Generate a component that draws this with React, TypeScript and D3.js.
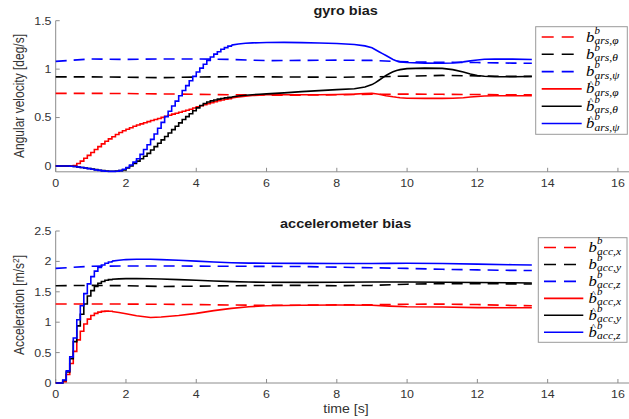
import React from "react";
import * as d3 from "d3";

const W = 629;
const H = 419;
const SX = 1.15; // horizontal glyph stretch of the exported figure

// ---- axes ----
const xTicks = [0, 2, 4, 6, 8, 10, 12, 14, 16];
const gyroYTicks = [0, 0.5, 1, 1.5];
const accYTicks = [0, 0.5, 1, 1.5, 2, 2.5];

// ---- true biases (1 s knots) ----
const trueTime = [0, 1, 2, 3, 4, 5, 6, 7, 8, 9, 10, 11, 12, 13, 13.55];
const gyroTruePhi = [0.75, 0.75, 0.748, 0.744, 0.74, 0.735, 0.732, 0.732, 0.735, 0.74, 0.742, 0.74, 0.738, 0.735, 0.735];
const gyroTrueTheta = [0.92, 0.92, 0.917, 0.912, 0.918, 0.922, 0.92, 0.918, 0.916, 0.92, 0.928, 0.935, 0.93, 0.925, 0.925];
const gyroTruePsi = [1.08, 1.105, 1.1, 1.105, 1.105, 1.1, 1.088, 1.09, 1.093, 1.09, 1.075, 1.07, 1.068, 1.062, 1.06];
const accTrueX = [1.3, 1.3, 1.298, 1.295, 1.29, 1.283, 1.278, 1.28, 1.285, 1.288, 1.295, 1.298, 1.29, 1.275, 1.27];
const accTrueY = [1.6, 1.605, 1.6, 1.588, 1.592, 1.6, 1.605, 1.605, 1.6, 1.605, 1.625, 1.635, 1.635, 1.63, 1.628];
const accTrueZ = [1.885, 1.92, 1.925, 1.925, 1.922, 1.92, 1.918, 1.915, 1.905, 1.895, 1.885, 1.87, 1.86, 1.852, 1.85];

// ---- estimated gyro bias (held samples until GYRO_STEP_END) ----
const GYRO_STEP_END = 5.0;
const gyroEstTime = [
  0, 0.2, 0.4,
  0.5, 0.6, 0.7, 0.8, 0.9, 1.0,
  1.1, 1.2, 1.3, 1.4, 1.5, 1.6, 1.7, 1.8, 1.9, 2.0,
  2.1, 2.2, 2.3, 2.4, 2.5, 2.6, 2.7, 2.8, 2.9, 3.0,
  3.1, 3.2, 3.3, 3.4, 3.5, 3.6, 3.7, 3.8, 3.9, 4.0,
  4.1, 4.2, 4.3, 4.4, 4.5, 4.6, 4.7, 4.8, 4.9, 5.0,
  5.2, 5.4, 5.6, 5.8, 6.0,
  6.5, 7.0, 7.5, 8.0, 8.5, 8.8,
  9.0, 9.1, 9.2, 9.3, 9.4, 9.5, 9.6, 9.7, 9.8,
  10.0, 10.5, 11.0, 11.3, 11.6, 11.8, 12.0, 12.2, 12.5, 13.0, 13.55,
];
const gyroEstPhi = [
  0, 0, 0,
  0.005, 0.025, 0.05, 0.08, 0.11, 0.14,
  0.17, 0.2, 0.228, 0.255, 0.28, 0.302, 0.325, 0.345, 0.364, 0.38,
  0.395, 0.41, 0.423, 0.435, 0.447, 0.458, 0.469, 0.48, 0.491, 0.502,
  0.513, 0.524, 0.535, 0.545, 0.555, 0.565, 0.575, 0.586, 0.598, 0.61,
  0.622, 0.633, 0.644, 0.654, 0.664, 0.673, 0.681, 0.689, 0.696, 0.702,
  0.712, 0.72, 0.727, 0.732, 0.735,
  0.735, 0.735, 0.736, 0.738, 0.742, 0.748,
  0.75, 0.745, 0.74, 0.732, 0.725, 0.72, 0.714, 0.709, 0.705,
  0.7, 0.698, 0.698, 0.7, 0.705, 0.712, 0.718, 0.723, 0.725, 0.725, 0.725,
];
const gyroEstTheta = [
  0, 0, -0.003,
  -0.006, -0.01, -0.015, -0.02, -0.026, -0.032,
  -0.038, -0.044, -0.048, -0.052, -0.055, -0.055, -0.053, -0.048, -0.04, -0.02,
  0.0, 0.025, 0.05, 0.075, 0.1, 0.13, 0.165, 0.2, 0.235, 0.27,
  0.305, 0.34, 0.375, 0.41, 0.445, 0.48, 0.51, 0.54, 0.57, 0.6,
  0.625, 0.645, 0.66, 0.672, 0.682, 0.69, 0.697, 0.703, 0.708, 0.713,
  0.722, 0.73, 0.736, 0.741, 0.745,
  0.755, 0.768, 0.778, 0.788, 0.797, 0.815,
  0.84, 0.86, 0.885, 0.91, 0.935, 0.955, 0.972, 0.985, 0.995,
  1.005, 1.01, 1.008, 0.995, 0.97, 0.95, 0.935, 0.926, 0.922, 0.922, 0.924,
];
const gyroEstPsi = [
  0, 0, -0.003,
  -0.006, -0.01, -0.015, -0.02, -0.027, -0.033,
  -0.04, -0.045, -0.05, -0.054, -0.056, -0.056, -0.054, -0.048, -0.033, -0.015,
  0.01, 0.04, 0.075, 0.12, 0.17, 0.22, 0.275, 0.33, 0.39, 0.45,
  0.51, 0.565, 0.62, 0.67, 0.725, 0.78, 0.83, 0.88, 0.925, 0.97,
  1.01, 1.05, 1.09, 1.125, 1.155, 1.18, 1.205, 1.222, 1.237, 1.248,
  1.26, 1.267, 1.271, 1.273, 1.275,
  1.276, 1.274, 1.27, 1.265, 1.255, 1.24,
  1.22, 1.2, 1.18, 1.16, 1.14, 1.12, 1.1, 1.085, 1.075,
  1.068, 1.062, 1.06, 1.064, 1.075, 1.085, 1.095, 1.102, 1.105, 1.103, 1.1,
];

// ---- estimated accelerometer bias (held samples until ACC_STEP_END) ----
const ACC_STEP_END = 1.6;
const accEstTime = [
  0, 0.1, 0.2, 0.3, 0.4, 0.5, 0.6, 0.7, 0.8, 0.9, 1.0, 1.1, 1.2, 1.3, 1.4, 1.5, 1.6,
  1.8, 2.0, 2.3, 2.7, 3.0, 3.5, 4.0, 4.5, 5.0, 5.5, 6.0, 7.0, 8.0, 9.0, 9.5, 10.0, 11.0, 12.0, 13.0, 13.55,
];
const accEstX = [
  0, 0, 0.02, 0.14, 0.32, 0.52, 0.71, 0.85, 0.97, 1.05, 1.11, 1.145, 1.165, 1.178, 1.182, 1.18, 1.175,
  1.16, 1.14, 1.105, 1.078, 1.085, 1.11, 1.145, 1.19, 1.228, 1.255, 1.27, 1.28, 1.282, 1.28, 1.265, 1.255, 1.25, 1.24, 1.238, 1.238,
];
const accEstY = [
  0, 0, 0.04, 0.18, 0.4, 0.68, 0.94, 1.13, 1.3, 1.43, 1.52, 1.59, 1.64, 1.67, 1.69, 1.7, 1.707,
  1.713, 1.716, 1.716, 1.714, 1.71, 1.7, 1.69, 1.677, 1.667, 1.66, 1.656, 1.655, 1.658, 1.662, 1.662, 1.66, 1.658, 1.652, 1.648, 1.645,
];
const accEstZ = [
  0, 0, 0.05, 0.2, 0.43, 0.74, 1.04, 1.27, 1.47, 1.63, 1.75, 1.84, 1.9, 1.94, 1.97, 1.99, 2.005,
  2.02, 2.03, 2.035, 2.035, 2.03, 2.02, 2.005, 1.99, 1.978, 1.972, 1.97, 1.968, 1.965, 1.966, 1.968, 1.97, 1.966, 1.955, 1.945, 1.94,
];

const gyroSubs = ["ars,\u03c6", "ars,\u03b8", "ars,\u03c8"];
const accSubs = ["acc,x", "acc,y", "acc,z"];
const COLORS = ["#ff0000", "#000000", "#0000ff"];

// ---- scales ----
const x = d3.scaleLinear().domain([0, 16.5]).range([55.7, 635.5]);
const yG = d3.scaleLinear().domain([-0.06, 1.5]).range([171.8, 20.7]);
const yA = d3.scaleLinear().domain([0, 2.5]).range([383, 231]);

const SANS = "'Liberation Sans', Arial, Helvetica, sans-serif";
const SERIF = "'Liberation Serif', 'Times New Roman', serif";
const AXIS = "#8c8c8c";
const LABEL = "#333333";
const DASH = "11,7";
const LW = 1.6;

type Pt = [number, number];

function STxt(props: {
  x: number; y: number; size: number; anchor?: string; weight?: string | number;
  fill?: string; family?: string; rotate?: number; italic?: boolean; children: React.ReactNode;
}) {
  const { x: px, y: py, size, anchor = "start", weight = "normal", fill = LABEL, family = SANS, rotate, italic } = props;
  const tr = `translate(${px},${py}) scale(${SX},1)` + (rotate ? ` rotate(${rotate})` : "");
  return (
    <text transform={tr} fontSize={size} textAnchor={anchor} fontWeight={weight} fill={fill}
      fontFamily={family} fontStyle={italic ? "italic" : "normal"}>
      {props.children}
    </text>
  );
}

function pts(t: number[], v: number[]): Pt[] {
  return t.map((ti, i) => [ti, v[i]] as Pt);
}

function Series(props: { t: number[]; v: number[]; y: d3.ScaleLinear<number, number>; color: string; dashed?: boolean; stepEnd?: number }) {
  const { t, v, y, color, dashed, stepEnd } = props;
  const p = pts(t, v);
  const lin = d3.line<Pt>().x((d) => x(d[0])).y((d) => y(d[1]));
  const common = { fill: "none", stroke: color, strokeWidth: LW, strokeDasharray: dashed ? DASH : undefined, strokeLinejoin: "miter" as const };
  if (stepEnd === undefined) return <path d={lin(p) || ""} {...common} />;
  const stairs = p.filter((d) => d[0] <= stepEnd);
  const smooth = p.filter((d) => d[0] >= stepEnd);
  const step = d3.line<Pt>().x((d) => x(d[0])).y((d) => y(d[1])).curve(d3.curveStepAfter);
  return (
    <g>
      <path d={step(stairs) || ""} {...common} />
      <path d={lin(smooth) || ""} {...common} />
    </g>
  );
}

function Axes(props: { y: d3.ScaleLinear<number, number>; yTicks: number[]; xLabelBase: number }) {
  const { y, yTicks, xLabelBase } = props;
  const [y0, y1] = y.range();
  const left = x(0);
  return (
    <g>
      <line x1={left} x2={W} y1={y0} y2={y0} stroke={AXIS} strokeWidth={1} />
      <line x1={left} x2={left} y1={y0} y2={y1} stroke={AXIS} strokeWidth={1} />
      {xTicks.map((t) => (
        <g key={"x" + t}>
          <line x1={x(t)} x2={x(t)} y1={y0} y2={y0 - 4} stroke={AXIS} strokeWidth={1} />
          <STxt x={x(t)} y={xLabelBase} size={10.8} anchor="middle">{String(t)}</STxt>
        </g>
      ))}
      {yTicks.map((t) => (
        <g key={"y" + t}>
          <line x1={left} x2={left + 4} y1={y(t)} y2={y(t)} stroke={AXIS} strokeWidth={1} />
          <STxt x={51.5} y={y(t) + 3.9} size={10.8} anchor="end">{String(t)}</STxt>
        </g>
      ))}
    </g>
  );
}

// One legend label: b with superscript b and subscript, optional hat
function BiasLabel(props: { x: number; y: number; sub: string; hat: boolean }) {
  const { x: px, y: py, sub, hat } = props;
  const scriptX = 8.6 / SX;
  return (
    <text transform={`translate(${px},${py}) scale(${SX},1)`} fontFamily={SERIF} fill="#000" fontStyle="italic">
      <tspan x={0} y={4.5} fontSize={14.5}>b</tspan>
      {hat && <tspan x={4.8 / SX - 2.1} y={-1.8} fontSize={9} fontStyle="normal">^</tspan>}
      <tspan x={scriptX} y={-3.2} fontSize={9.5}>b</tspan>
      <tspan x={scriptX} y={7} fontSize={10}>{sub}</tspan>
    </text>
  );
}

function Legend(props: { bx: number; by: number; bw: number; bh: number; row0: number; dy: number; lx1: number; lx2: number; tx: number; subs: string[] }) {
  const { bx, by, bw, bh, row0, dy, lx1, lx2, tx, subs } = props;
  const entries = [0, 1, 2, 3, 4, 5].map((i) => ({ color: COLORS[i % 3], dashed: i < 3, hat: i >= 3, sub: subs[i % 3] }));
  return (
    <g>
      <rect x={bx} y={by} width={bw} height={bh} fill="#ffffff" stroke="#9a9a9a" strokeWidth={1} />
      {entries.map((e, i) => {
        const ry = row0 + i * dy;
        return (
          <g key={i}>
            <line x1={lx1} x2={lx2} y1={ry} y2={ry} stroke={e.color} strokeWidth={LW} strokeDasharray={e.dashed ? "12,8" : undefined} />
            <BiasLabel x={tx} y={ry} sub={e.sub} hat={e.hat} />
          </g>
        );
      })}
    </g>
  );
}

export default function App() {
  const midX = (x.range()[0] + x.range()[1]) / 2;
  return (
    <svg width={W} height={H} viewBox={`0 0 ${W} ${H}`}
      style={{ position: "fixed", left: 0, top: 0, background: "#ffffff" }}>
      <rect x={0} y={0} width={W} height={H} fill="#ffffff" />

      {/* gyro bias panel */}
      <Axes y={yG} yTicks={gyroYTicks} xLabelBase={187} />
      <Series t={trueTime} v={gyroTruePhi} y={yG} color={COLORS[0]} dashed />
      <Series t={trueTime} v={gyroTrueTheta} y={yG} color={COLORS[1]} dashed />
      <Series t={trueTime} v={gyroTruePsi} y={yG} color={COLORS[2]} dashed />
      <Series t={gyroEstTime} v={gyroEstPhi} y={yG} color={COLORS[0]} stepEnd={GYRO_STEP_END} />
      <Series t={gyroEstTime} v={gyroEstTheta} y={yG} color={COLORS[1]} stepEnd={GYRO_STEP_END} />
      <Series t={gyroEstTime} v={gyroEstPsi} y={yG} color={COLORS[2]} stepEnd={GYRO_STEP_END} />
      <STxt x={midX} y={14.5} size={12.6} weight="bold" anchor="middle" fill="#1a1a1a">gyro bias</STxt>
      <STxt x={24} y={96} size={12} anchor="middle" rotate={-90}>Angular velocity [deg/s]</STxt>
      <Legend bx={535.7} by={26.7} bw={91.6} bh={107.6} row0={37} dy={17.3} lx1={541.7} lx2={581.7} tx={586} subs={gyroSubs} />

      {/* accelerometer bias panel */}
      <Axes y={yA} yTicks={accYTicks} xLabelBase={398} />
      <Series t={trueTime} v={accTrueX} y={yA} color={COLORS[0]} dashed />
      <Series t={trueTime} v={accTrueY} y={yA} color={COLORS[1]} dashed />
      <Series t={trueTime} v={accTrueZ} y={yA} color={COLORS[2]} dashed />
      <Series t={accEstTime} v={accEstX} y={yA} color={COLORS[0]} stepEnd={ACC_STEP_END} />
      <Series t={accEstTime} v={accEstY} y={yA} color={COLORS[1]} stepEnd={ACC_STEP_END} />
      <Series t={accEstTime} v={accEstZ} y={yA} color={COLORS[2]} stepEnd={ACC_STEP_END} />
      <STxt x={midX} y={228} size={12.6} weight="bold" anchor="middle" fill="#1a1a1a">accelerometer bias</STxt>
      <STxt x={24} y={305} size={12} anchor="middle" rotate={-90}>
        Acceleration [m/s<tspan dy={-4} fontSize={8.5}>2</tspan><tspan dy={4}>]</tspan>
      </STxt>
      <STxt x={346} y={413} size={12.3} anchor="middle">time [s]</STxt>
      <Legend bx={538.3} by={237.7} bw={88.7} bh={104.6} row0={247.5} dy={16.95} lx1={544} lx2={583.3} tx={588.5} subs={accSubs} />
    </svg>
  );
}
